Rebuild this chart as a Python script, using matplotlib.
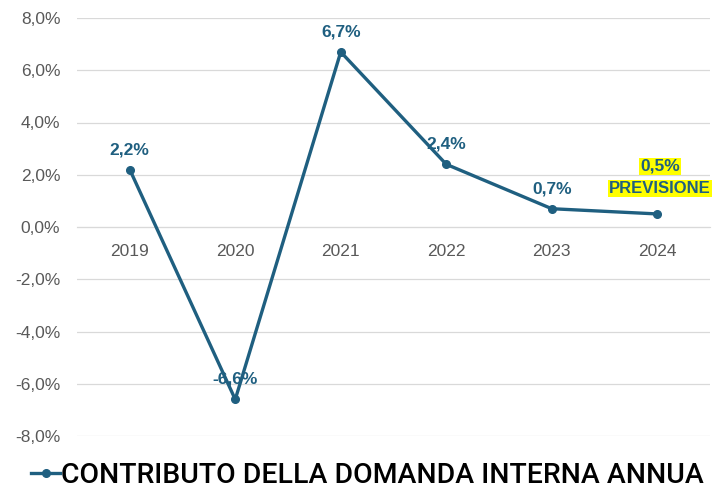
import matplotlib.pyplot as plt
import numpy as np

# Contributo della domanda interna annua (%)
years = ["2019", "2020", "2021", "2022", "2023", "2024"]
values = [2.2, -6.6, 6.7, 2.4, 0.7, 0.5]
y_ticks = [-8, -6, -4, -2, 0, 2, 4, 6, 8]

LINE_COLOR = "#1f5f80"
TICK_COLOR = "#595959"

plt.rcParams['font.family'] = ['Liberation Sans', 'DejaVu Sans']

fig = plt.figure(figsize=(7.18, 4.91), dpi=100)
ax = fig.add_axes([77 / 718, 1 - 436 / 491, 633 / 718, 418 / 491])

x = np.arange(len(years))
ax.plot(x, values, color=LINE_COLOR, linewidth=2.4, marker='o', markersize=5.5,
        label="CONTRIBUTO DELLA DOMANDA INTERNA ANNUA", zorder=3)

ax.set_xlim(-0.5, len(years) - 0.5)
ax.set_ylim(-8, 8)
ax.set_yticks(y_ticks)
ax.set_yticklabels([f"{v:.1f}%".replace(".", ",") for v in y_ticks])
ax.set_xticks(x)
ax.set_xticklabels(years)
ax.tick_params(axis='both', length=0, labelsize=12.5, colors=TICK_COLOR)
ax.tick_params(axis='y', pad=12)
ax.tick_params(axis='x', pad=12)

# category axis sits on the zero line
for side in ['top', 'right', 'left']:
    ax.spines[side].set_visible(False)
ax.spines['bottom'].set_position(('data', 0))
ax.spines['bottom'].set_color('#d9d9d9')
ax.grid(axis='y', color='#d9d9d9', linewidth=0.9)
ax.set_axisbelow(True)

# data labels
for i, v in enumerate(values[:-1]):
    ax.annotate(f"{v:.1f}%".replace(".", ","), (i, v), xytext=(0, 9),
                textcoords='offset points', ha='center', va='bottom',
                fontsize=12.5, fontweight='bold', color=LINE_COLOR, zorder=4)

# last point is a forecast
hl = dict(facecolor='#ffff00', edgecolor='none', pad=0.6)
ax.annotate(f"{values[-1]:.1f}%".replace(".", ","), (x[-1], values[-1]), xytext=(2, 29),
            textcoords='offset points', ha='center', va='bottom',
            fontsize=12.5, fontweight='bold', color=LINE_COLOR, bbox=hl, zorder=4)
ax.annotate("PREVISIONE", (x[-1], values[-1]), xytext=(2, 13),
            textcoords='offset points', ha='center', va='bottom',
            fontsize=12, fontweight='bold', color=LINE_COLOR, bbox=hl, zorder=4)

fig.legend(loc='lower center', bbox_to_anchor=(0.512, -0.047), frameon=False,
           prop=dict(family='Roboto', size=20.4, weight='medium'),
           handlelength=1.0, handletextpad=0.05)

fig.savefig("out.png", dpi=100)
